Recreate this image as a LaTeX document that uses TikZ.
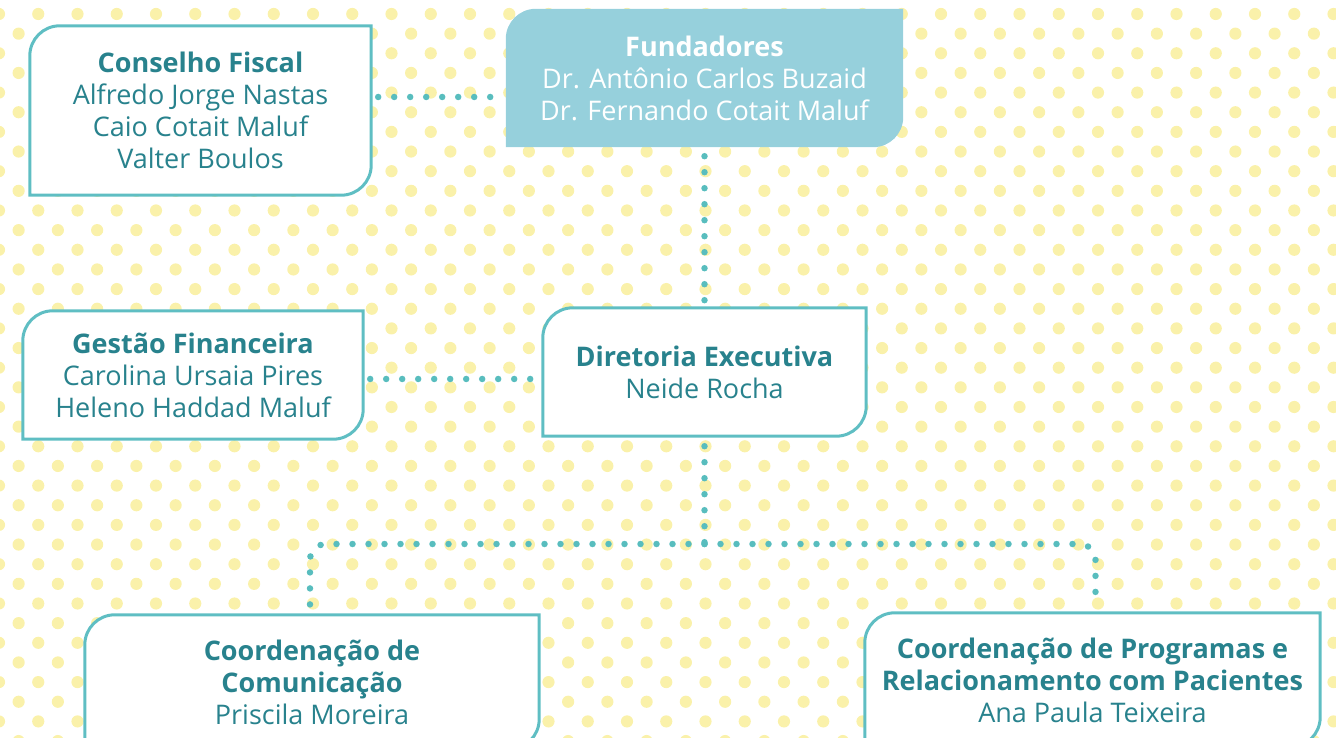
\documentclass[tikz,border=0pt]{standalone}
\usepackage{fontspec}
\setmainfont{Open Sans}
\definecolor{boxteal}{RGB}{95,190,195}
\definecolor{linkteal}{RGB}{88,189,190}
\definecolor{textteal}{RGB}{40,130,141}
\definecolor{fundblue}{RGB}{150,208,220}
\definecolor{dotyellow}{RGB}{250,241,170}
\pgfdeclarelayer{dots}
\pgfdeclarelayer{boxes}
\pgfsetlayers{dots,boxes,main}
\newcommand{\leafr}{30}
\newcommand{\leafbox}[2][]{%
  \begin{pgfonlayer}{boxes}
    \path[#1] ([xshift=\leafr pt]#2.north west) -- (#2.north east) -- ([yshift=\leafr pt]#2.south east)
      arc[start angle=0, end angle=-90, radius=\leafr] -- (#2.south west) -- ([yshift=-\leafr pt]#2.north west)
      arc[start angle=180, end angle=90, radius=\leafr] -- cycle;
  \end{pgfonlayer}}

\begin{document}
\begin{tikzpicture}[x=1pt, y=1pt,
  box/.style={align=center, text=textteal, font=\fontsize{27}{32}\selectfont, inner sep=0pt},
  boxline/.style={fill=white, draw=boxteal, line width=3pt},
  fundfill/.style={fill=fundblue},
  link/.style={draw=linkteal, line width=6.5pt, line cap=round, dash pattern=on 0pt off 16pt},
  bgdot/.style={fill=dotyellow}]
  \useasboundingbox (0,0) rectangle (1336,737);

  \begin{pgfonlayer}{dots}
    \clip (0,0) rectangle (1336,737);
    \foreach \k in {0,...,37}
      \foreach \j in {0,...,34}
        \fill[bgdot] ({-1+39.25*\j+19.625*mod(\k,2)}, {723-19.65*\k}) circle (6.1);
  \end{pgfonlayer}

  \node[box, minimum width=341pt, minimum height=169pt] (cf) at (200.5,626.5)
    {\bfseries Conselho Fiscal\\Alfredo Jorge Nastas\\Caio Cotait Maluf\\Valter Boulos};
  \node[box, text=white, minimum width=397pt, minimum height=138pt] (fund) at (704.5,659)
    {\bfseries Fundadores\\Dr. Antônio Carlos Buzaid\\Dr. Fernando Cotait Maluf};
  \node[box, minimum width=340pt, minimum height=128pt] (gf) at (193,362)
    {\bfseries Gestão Financeira\\Carolina Ursaia Pires\\Heleno Haddad Maluf};
  \node[box, minimum width=323pt, minimum height=128pt] (dir) at (704.5,365)
    {\bfseries Diretoria Executiva\\Neide Rocha};
  \node[box, minimum width=454pt, minimum height=134pt] (com) at (312,55)
    {\bfseries Coordenação de\\\bfseries Comunicação\\Priscila Moreira};
  \node[box, minimum width=455pt, minimum height=134pt] (prog) at (1092.5,57)
    {\bfseries Coordenação de Programas e\\\bfseries Relacionamento com Pacientes\\Ana Paula Teixeira};

  \leafbox[boxline]{cf}
  \leafbox[fundfill]{fund}
  \leafbox[boxline]{gf}
  \leafbox[boxline]{dir}
  \leafbox[boxline]{com}
  \leafbox[boxline]{prog}

  % connectors
  \coordinate (split) at (704.5,193);
  \draw[link, shorten <=7pt, shorten >=6pt] (cf.east |- 0,640) -- (fund.west |- 0,640);
  \draw[link, shorten <=9pt, shorten >=5pt] (fund.south) -- (dir.north);
  \draw[link, shorten <=7pt, shorten >=6pt] (gf.east |- 0,358) -- (dir.west |- 0,358);
  \draw[link, shorten <=10pt] (dir.south) -- (split);
  \draw[link, rounded corners=16pt, shorten >=5pt] (split) -| ([xshift=-2pt]com.north);
  \draw[link, rounded corners=16pt, shorten >=5pt] (split) -| ([xshift=3pt]prog.north);
\end{tikzpicture}
\end{document}
